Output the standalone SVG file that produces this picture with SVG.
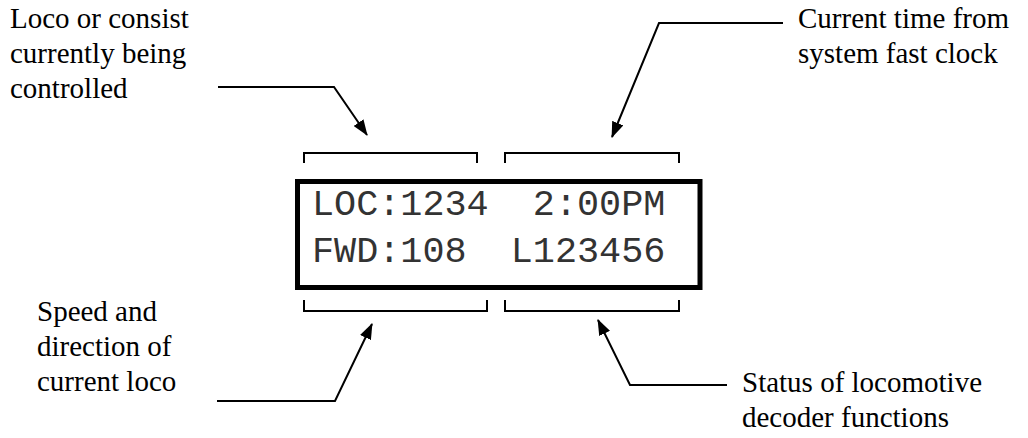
<svg xmlns="http://www.w3.org/2000/svg" width="1028" height="438" viewBox="0 0 1028 438">
<style>
.lbl{font-family:"Liberation Serif","Times New Roman",serif;font-size:29px;fill:#000}
.lcd{font-family:"Liberation Mono","Courier New",monospace;font-size:36.8px;fill:#333;white-space:pre}
.br{fill:none;stroke:#000;stroke-width:2}
.con{fill:none;stroke:#000;stroke-width:2}
</style>
<defs>
<marker id="ah" viewBox="0 0 16 12" refX="15" refY="6" markerWidth="16" markerHeight="12" markerUnits="userSpaceOnUse" orient="auto">
<path d="M0,0 L16,6 L0,12 z" fill="#000"/>
</marker>
</defs>
<rect width="1028" height="438" fill="#fff"/>
<g id="display">
<rect x="297.5" y="181.5" width="402.5" height="106" fill="none" stroke="#000" stroke-width="5"/>
<text class="lcd" x="312" y="215">LOC:1234  2:00PM</text>
<text class="lcd" x="312" y="262">FWD:108  L123456</text>
</g>
<g id="brackets">
<path class="br" d="M304 163 V153 H477 V163"/>
<path class="br" d="M505 163 V153 H679 V163"/>
<path class="br" d="M304 300 V311 H487 V300"/>
<path class="br" d="M505 300 V311 H679 V300"/>
</g>
<g id="label-loco">
<text class="lbl" x="10" y="28">Loco or consist</text>
<text class="lbl" x="10" y="63">currently being</text>
<text class="lbl" x="10" y="98">controlled</text>
</g>
<g id="label-time">
<text class="lbl" x="798" y="28">Current time from</text>
<text class="lbl" x="798" y="63">system fast clock</text>
</g>
<g id="label-speed">
<text class="lbl" x="37" y="321">Speed and</text>
<text class="lbl" x="37" y="356">direction of</text>
<text class="lbl" x="37" y="391">current loco</text>
</g>
<g id="label-status">
<text class="lbl" x="742" y="392">Status of locomotive</text>
<text class="lbl" x="742" y="427">decoder functions</text>
</g>
<g id="connectors">
<path class="con" d="M218 87 H334 L367 135" marker-end="url(#ah)"/>
<path class="con" d="M783 23 H659 L612 137" marker-end="url(#ah)"/>
<path class="con" d="M217 401 H335 L372 324" marker-end="url(#ah)"/>
<path class="con" d="M727 385 H630 L598 320" marker-end="url(#ah)"/>
</g>
</svg>
